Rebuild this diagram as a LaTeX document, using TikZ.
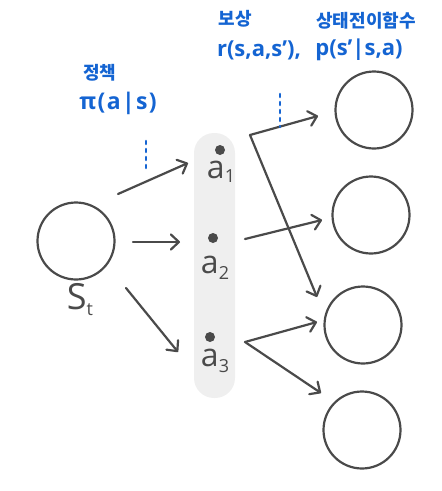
\documentclass[tikz,border=0pt]{standalone}
\usepackage{fontspec}
\setmainfont{Open Sans}
\newfontfamily\kr{Noto Sans CJK KR}
\newfontfamily\hand[LetterSpace=6]{Open Sans}
\usetikzlibrary{arrows.meta}
\definecolor{ink}{RGB}{74,74,74}
\definecolor{pen}{RGB}{20,100,210}
\definecolor{pale}{RGB}{239,239,239}
\newcommand{\sub}[3]{#1\raisebox{#3}{\fontsize{18}{18}\selectfont #2}}

\begin{document}
\begin{tikzpicture}[x=1pt,y=-1pt,
  state/.style={circle,draw=ink,line width=2.2pt,minimum size=77pt,inner sep=0pt},
  act/.style={circle,fill=ink,minimum size=10pt,inner sep=0pt},
  arr/.style={draw=ink,line width=2.2pt,line cap=round,line join=round,
    -{Straight Barb[length=8pt,width=15pt,line cap=round,line join=round]}},
  cue/.style={draw=pen,line width=2.6pt,line cap=round,dash pattern=on 3pt off 5pt},
  note/.style={text=pen,inner sep=0pt},
  lab/.style={text=ink,inner sep=0pt,font=\fontsize{32}{32}\selectfont}]
  \useasboundingbox (0,0) rectangle (442,491);
  % action column
  \fill[pale,rounded corners=20pt] (194,133) rectangle (235,398);

  % states
  \node[state] (s) at (76,241) {};
  \node[lab,font=\fontsize{36}{36}\selectfont] (slab) at (80,300) {\sub{S}{t}{-6pt}};
  \node[state] (n1) at (374,110) {};
  \node[state] (n2) at (371,215) {};
  \node[state] (n3) at (363,325) {};
  \node[state] (n4) at (362,430) {};

  % actions
  \node[act] (d1) at (220,150) {};
  \node[act] (d2) at (213,238) {};
  \node[act] (d3) at (210,337) {};
  \node[lab] (a1) at (221,172) {\sub{a}{1}{-4pt}};
  \node[lab] (a2) at (215,268) {\sub{a}{2}{-6pt}};
  \node[lab] (a3) at (215,361) {\sub{a}{3}{-6pt}};

  % arrow ends
  \coordinate (t1) at (188,163);
  \coordinate (t2) at (180,242);
  \coordinate (t3) at (178,352);
  \coordinate (b1) at (250,135);
  \coordinate (b2) at (245,239);
  \coordinate (b3) at (245,342);

  \draw[arr] ([shift={(42,-47)}]s.center) -- (t1);
  \draw[arr] ([shift={(57,1)}]s.center) -- (t2);
  \draw[arr] ([shift={(50,47)}]s.center) -- (t3);
  \draw[arr] (b1) -- ([shift={(-56,6)}]n1.center);
  \draw[arr] (b1) -- ([shift={(-46,-28)}]n3.center);
  \draw[arr] (b2) -- ([shift={(-49,5)}]n2.center);
  \draw[arr] (b3) -- ([shift={(-46,-3)}]n3.center);
  \draw[arr] (b3) -- ([shift={(-41,-37)}]n4.center);

  % labels
  \node[note,font=\kr\bfseries\fontsize{18}{18}\selectfont] (polkr) at (100,73) {정책};
  \node[note,font=\hand\bfseries\fontsize{23}{23}\selectfont] (pol) at (118,103) {π(a|s)};
  \node[note,font=\kr\bfseries\fontsize{18}{18}\selectfont] (rewkr) at (235,19) {보상};
  \node[note,font=\kr\bfseries\fontsize{18}{18}\selectfont] (trkr) at (366,21) {상태전이함수};
  \node[note,font=\bfseries\fontsize{22}{22}\selectfont] (rew) at (259,50) {r(s,a,s'),};
  \node[note,font=\bfseries\fontsize{22}{22}\selectfont] (tr) at (359,50) {p(s'|s,a)};
  \draw[cue] (146,141) -- (146,172);
  \draw[cue] (280,94) -- (280,127);
\end{tikzpicture}
\end{document}
